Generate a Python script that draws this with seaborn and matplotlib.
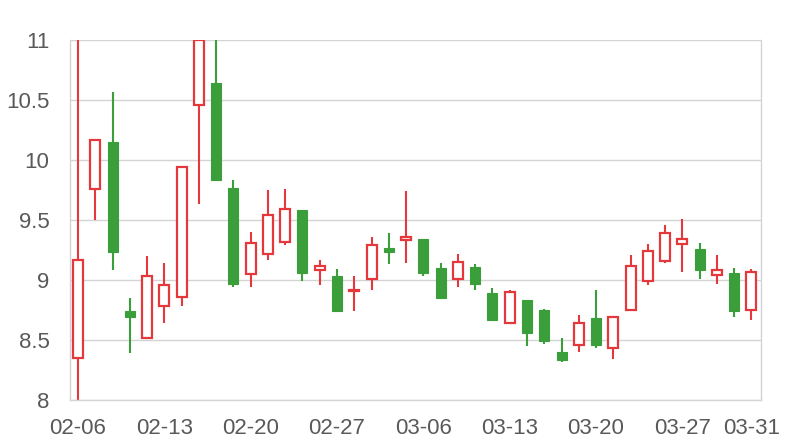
import numpy as np
import pandas as pd
import seaborn as sns
import matplotlib
matplotlib.use("Agg")
import matplotlib.pyplot as plt

# trading days, 2017-02-06 .. 2017-03-31
dates = ["02-06", "02-07", "02-08", "02-09", "02-10",
         "02-13", "02-14", "02-15", "02-16", "02-17",
         "02-20", "02-21", "02-22", "02-23", "02-24",
         "02-27", "02-28", "03-01", "03-02", "03-03",
         "03-06", "03-07", "03-08", "03-09", "03-10",
         "03-13", "03-14", "03-15", "03-16", "03-17",
         "03-20", "03-21", "03-22", "03-23", "03-24",
         "03-27", "03-28", "03-29", "03-30", "03-31"]

open_ = [8.35, 9.76, 10.15, 8.74, 8.52, 8.78, 8.86, 10.46, 10.64, 9.77,
         9.05, 9.22, 9.32, 9.58, 9.08, 9.03, 8.91, 9.01, 9.27, 9.33,
         9.34, 9.10, 9.01, 9.11, 8.89, 8.64, 8.83, 8.75, 8.40, 8.46,
         8.68, 8.43, 8.75, 8.99, 9.16, 9.30, 9.26, 9.04, 9.06, 8.75]
close = [9.17, 10.17, 9.23, 8.69, 9.03, 8.96, 9.94, 11.00, 9.83, 8.97,
         9.31, 9.54, 9.59, 9.06, 9.12, 8.74, 8.92, 9.29, 9.23, 9.36,
         9.06, 8.85, 9.15, 8.97, 8.67, 8.90, 8.56, 8.49, 8.33, 8.64,
         8.46, 8.69, 9.12, 9.24, 9.39, 9.34, 9.08, 9.08, 8.74, 9.07]
high = [11.00, 10.17, 10.57, 8.85, 9.20, 9.14, 9.94, 11.00, 11.00, 9.83,
        9.40, 9.75, 9.76, 9.58, 9.17, 9.09, 9.03, 9.36, 9.39, 9.74,
        9.34, 9.14, 9.22, 9.13, 8.93, 8.92, 8.83, 8.76, 8.52, 8.71,
        8.92, 8.69, 9.21, 9.30, 9.46, 9.51, 9.31, 9.21, 9.10, 9.09]
low = [8.00, 9.50, 9.08, 8.39, 8.52, 8.64, 8.78, 9.63, 9.83, 8.94,
       8.94, 9.17, 9.29, 8.99, 8.96, 8.73, 8.74, 8.92, 9.13, 9.14,
       9.03, 8.85, 8.94, 8.92, 8.67, 8.64, 8.45, 8.47, 8.32, 8.40,
       8.43, 8.34, 8.75, 8.96, 9.14, 9.07, 9.01, 8.97, 8.69, 8.67]

df = pd.DataFrame({"date": dates, "open": open_, "close": close,
                   "high": high, "low": low})
df["x"] = np.arange(len(df))
df["up"] = df["close"] >= df["open"]

RED = "#e5383d"
GREEN = "#3a9e3a"
GRID = "#d4d4d4"
TXT = "#595959"

sns.set_theme(style="white")
plt.rcParams["font.family"] = ["Liberation Sans", "DejaVu Sans"]

fig = plt.figure(figsize=(8, 4.4), dpi=100)
ax = fig.add_axes([0.088, 0.091, 0.863, 0.818])

w = 0.58
for _, r in df.iterrows():
    col = RED if r["up"] else GREEN
    ax.vlines(r["x"], r["low"], r["high"], color=col, lw=1.5, zorder=2)
    lo = min(r["open"], r["close"])
    h = abs(r["close"] - r["open"])
    if r["up"]:
        ax.bar(r["x"], max(h, 0.008), bottom=lo, width=w, color="white",
               edgecolor=col, linewidth=1.6, zorder=3)
    else:
        ax.bar(r["x"], max(h, 0.008), bottom=lo, width=w, color=col,
               edgecolor=col, linewidth=0.8, zorder=3)

ax.set_ylim(8, 11)
ax.set_xlim(-0.44, 39.54)
ax.set_yticks([8, 8.5, 9, 9.5, 10, 10.5, 11])
ax.set_yticklabels(["8", "8.5", "9", "9.5", "10", "10.5", "11"])
tick_idx = [0, 5, 10, 15, 20, 25, 30, 35, 39]
ax.set_xticks(tick_idx)
ax.set_xticklabels([dates[i] for i in tick_idx])
ax.tick_params(axis="both", labelsize=16, colors=TXT, length=0)
ax.tick_params(axis="y", pad=15)
ax.tick_params(axis="x", pad=13)
ax.grid(axis="y", color=GRID, lw=1, zorder=0)
ax.set_axisbelow(True)
for s in ["left", "right", "bottom"]:
    ax.spines[s].set_color(GRID)
    ax.spines[s].set_linewidth(1)
ax.spines["top"].set_visible(False)
ax.set_xlabel("")
ax.set_ylabel("")

fig.savefig("out.png", dpi=100)
